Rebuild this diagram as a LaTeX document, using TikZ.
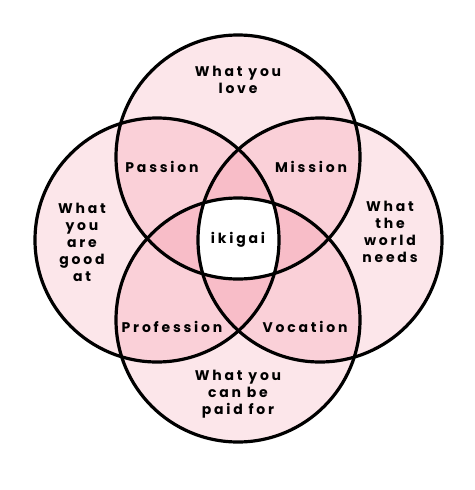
\documentclass[tikz,border=0pt]{standalone}
\usepackage{fontspec}
\newfontfamily\ikifont{Poppins}[LetterSpace=20]
\definecolor{pinkA}{HTML}{FCE6EA}
\definecolor{pinkB}{HTML}{FAD0D8}
\definecolor{pinkC}{HTML}{F8BDC8}
\tikzset{lbl/.style={font=\ikifont\bfseries\fontsize{14}{17}\selectfont,align=center,text=black,inner sep=0pt}}
\def\rad{122pt}
\begin{document}
\begin{tikzpicture}[x=1pt,y=-1pt]
\useasboundingbox (0,0) rectangle (474,490);
\coordinate (T) at (238,157);
\coordinate (B) at (238,320);
\coordinate (L) at (157,240);
\coordinate (R) at (320,240);
% one circle
\foreach \c in {T,B,L,R}
\fill[pinkA](\c) circle(\rad);
% two circles
\foreach \a/\b in {T/L,T/R,B/L,B/R,T/B,L/R}
{\begin{scope}\clip(\a) circle(\rad);\fill[pinkB](\b) circle(\rad);\end{scope}}
% three circles
\foreach \a/\b/\c in {T/L/R,B/L/R,T/B/L,T/B/R}
{\begin{scope}\clip(\a) circle(\rad);\clip(\b) circle(\rad);\fill[pinkC](\c) circle(\rad);\end{scope}}
% all four
\begin{scope}\clip(T) circle(\rad);\clip(L) circle(\rad);\clip(R) circle(\rad);\fill[white](B) circle(\rad);\end{scope}
\foreach \c in {T,B,L,R}
\draw[line width=3.2pt](\c) circle(\rad);
\node[lbl](love) at (238,80){What you\\love};
\node[lbl](good) at (82,242){What\\you\\are\\good\\at};
\node[lbl](world) at (390,232){What\\the\\world\\needs};
\node[lbl](paid) at (238,394){What you\\can be\\paid for};
\node[lbl](passion) at (162,167){Passion};
\node[lbl](mission) at (311,167){Mission};
\node[lbl](profession) at (172,327){Profession};
\node[lbl](vocation) at (305,327){Vocation};
\node[lbl](ikigai) at (238,240){ikigai};
\end{tikzpicture}
\end{document}
